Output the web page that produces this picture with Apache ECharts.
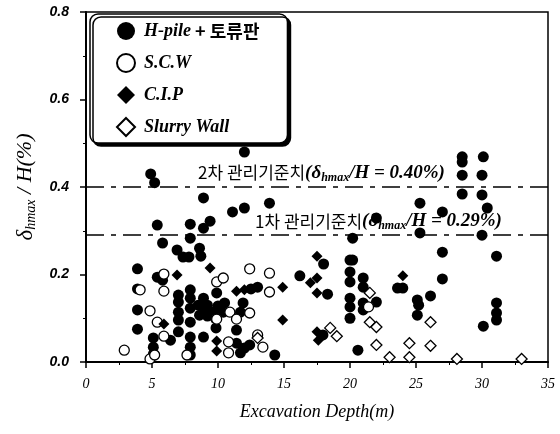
<!DOCTYPE html>
<html>
<head>
<meta charset="utf-8">
<script src="https://cdn.jsdelivr.net/npm/echarts@6/dist/echarts.min.js"></script>
<style>html,body{margin:0;padding:0;background:#fff}#c{width:560px;height:434px}</style>
</head>
<body>
<div id="c"></div>
<script>
const seriesNames = ['H-pile + 토류판', 'S.C.W', 'C.I.P', 'Slurry Wall'];
const xTicks = [0, 35, 5];
const yTicks = [0, 0.8, 0.2];
const limitValues = [0.40, 0.29];
const limitNames = ['2차 관리기준치', '1차 관리기준치'];

const hpile = [
[4.9,0.43],[5.2,0.41],[12.0,0.48],[8.9,0.375],[11.1,0.343],[12.0,0.352],[13.9,0.363],[5.4,0.313],[7.9,0.315],[9.4,0.322],[8.9,0.306],[7.9,0.283],[5.8,0.272],[6.9,0.256],[7.35,0.24],[7.8,0.24],[8.6,0.26],[8.7,0.242],
[3.9,0.213],[3.9,0.167],[3.9,0.119],[3.9,0.075],[5.4,0.194],[5.8,0.187],
[7.0,0.153],[7.0,0.137],[7.0,0.114],[7.0,0.096],[7.0,0.069],
[7.9,0.165],[7.9,0.146],[7.9,0.123],[7.9,0.091],[7.9,0.057],[7.9,0.034],[7.9,0.016],
[5.1,0.055],[5.1,0.034],[5.1,0.018],[6.4,0.05],
[8.9,0.146],[9.9,0.158],[8.5,0.13],[8.9,0.119],[9.2,0.13],[9.6,0.114],[10.0,0.128],[10.4,0.114],[9.2,0.105],[8.6,0.107],[9.8,0.1],[10.5,0.135],
[9.85,0.078],[8.9,0.057],
[11.9,0.135],[11.7,0.114],[11.4,0.073],[11.4,0.043],[11.7,0.021],[12.0,0.032],[12.4,0.039],[14.3,0.016],[13.0,0.171],[12.5,0.167],
[16.2,0.197],[18.0,0.224],[18.3,0.155],
[20.0,0.233],[20.2,0.233],[20.0,0.206],[20.0,0.183],[20.0,0.146],[20.0,0.126],[20.0,0.1],
[21.0,0.192],[21.0,0.171],[21.0,0.135],[21.0,0.119],
[22.0,0.137],[20.6,0.027],[23.6,0.169],[24.0,0.169],[25.1,0.142],[25.2,0.13],[25.1,0.107],[17.95,0.062],
[27.0,0.251],[31.1,0.242],[27.0,0.19],[26.1,0.151],[31.1,0.135],[31.1,0.112],[31.1,0.096],[30.1,0.082],
[28.5,0.469],[28.5,0.457],[30.1,0.469],[28.5,0.427],[30.0,0.427],[28.5,0.384],[30.0,0.382],[30.4,0.352],[25.3,0.363],[27.0,0.343],[22.0,0.329],[25.3,0.295],[30.0,0.29],[20.2,0.283]
];
const scw = [
[2.9,0.027],[5.9,0.201],[5.9,0.162],[4.1,0.165],[4.85,0.117],[5.4,0.091],[5.9,0.059],[4.85,0.007],[5.2,0.016],[7.65,0.016],[12.4,0.213],[13.9,0.203],[9.9,0.183],[10.4,0.192],[13.9,0.16],[10.9,0.114],[12.4,0.112],[11.4,0.098],[9.9,0.098],[10.8,0.046],[10.8,0.021],[13.0,0.062],[13.4,0.034],[21.4,0.126]
];
const cip = [
[6.9,0.199],[5.9,0.087],[9.4,0.215],[9.9,0.048],[9.9,0.025],[11.4,0.162],[12.0,0.165],[14.9,0.171],[14.9,0.096],[17.5,0.242],[17.5,0.192],[17.0,0.181],[17.5,0.158],[24.0,0.197],[17.5,0.069],[17.6,0.05]
];
const slurry = [
[18.5,0.078],[19.0,0.059],[21.5,0.158],[21.5,0.091],[22.0,0.08],[22.0,0.039],[23.0,0.011],[24.5,0.043],[24.5,0.011],[26.1,0.091],[26.1,0.037],[28.1,0.007],[33.0,0.007],[13.0,0.055]
];

const serif = 'Liberation Serif';
const richLimit = {
  k: {fontFamily: 'Noto Sans CJK KR', fontSize: 17, color: '#000'},
  m: {fontFamily: serif, fontStyle: 'italic', fontWeight: 'bold', fontSize: 19, color: '#000'},
  s: {fontFamily: serif, fontStyle: 'italic', fontWeight: 'bold', fontSize: 12, color: '#000', verticalAlign: 'bottom', padding: [10, 0, 0, 0]}
};
function limitLabel(i, dist) {
  return {
    show: true,
    position: 'insideStartTop',
    distance: dist,
    formatter: '{k|' + limitNames[i] + '}{m|(δ}{s|hmax}{m|/H = ' + limitValues[i].toFixed(2) + '%)}',
    rich: richLimit
  };
}

const chart = echarts.init(document.getElementById('c'));
const openStyle = {color: '#fff', borderColor: '#000', borderWidth: 1.3, opacity: 1};
const fillStyle = {color: '#000', opacity: 1};
chart.setOption({
  animation: false,
  grid: {left: 86, right: 12, top: 12, bottom: 72, show: true, borderColor: '#000', borderWidth: 1.5},
  legend: {
    left: 90, top: 14, orient: 'vertical',
    padding: [8, 28, 6, 26], itemGap: 13, itemWidth: 18, itemHeight: 18,
    backgroundColor: '#fff', borderColor: '#000', borderWidth: 1.5, borderRadius: 8,
    shadowColor: '#000', shadowBlur: 0, shadowOffsetX: 3, shadowOffsetY: 3,
    data: seriesNames,
    formatter: n => n === seriesNames[0] ? '{e|H-pile}{k| + 토류판}' : '{e|' + n + '}',
    textStyle: {
      padding: [0, 0, 0, 4],
      rich: {
        e: {fontFamily: serif, fontStyle: 'italic', fontWeight: 'bold', fontSize: 18, color: '#000'},
        k: {fontFamily: 'Noto Sans CJK KR', fontWeight: 'bold', fontSize: 18, color: '#000'}
      }
    }
  },
  xAxis: {
    type: 'value', min: xTicks[0], max: xTicks[1], interval: xTicks[2],
    name: 'Excavation Depth(m)', nameLocation: 'middle', nameGap: 41,
    nameTextStyle: {fontFamily: serif, fontStyle: 'italic', fontSize: 18, color: '#000'},
    axisLine: {lineStyle: {color: '#000', width: 2}},
    axisTick: {length: 6, lineStyle: {color: '#000', width: 1.5}},
    minorTick: {show: true, splitNumber: 2, length: 3, lineStyle: {color: '#000'}},
    axisLabel: {margin: 15, fontFamily: serif, fontStyle: 'italic', fontSize: 14, color: '#000'},
    splitLine: {show: false}
  },
  yAxis: {
    type: 'value', min: yTicks[0], max: yTicks[1], interval: yTicks[2],
    name: '{d|δ}{s|hmax}{n| / H(%)}', nameLocation: 'middle', nameGap: 44,
    nameTextStyle: {
      rich: {
        d: {fontFamily: serif, fontStyle: 'italic', fontSize: 23, color: '#000'},
        s: {fontFamily: serif, fontStyle: 'italic', fontSize: 14, color: '#000', verticalAlign: 'bottom', padding: [12, 0, 0, 0]},
        n: {fontFamily: serif, fontStyle: 'italic', fontSize: 22, color: '#000'}
      }
    },
    axisLine: {show: true, lineStyle: {color: '#000', width: 2}},
    axisTick: {show: true, length: 6, lineStyle: {color: '#000', width: 1.5}},
    minorTick: {show: true, splitNumber: 2, length: 3, lineStyle: {color: '#000'}},
    axisLabel: {margin: 17, fontFamily: 'Liberation Sans', fontStyle: 'italic', fontWeight: 'bold', fontSize: 14, color: '#000', formatter: v => v.toFixed(1)},
    splitLine: {show: false}
  },
  series: [
    {name: seriesNames[0], type: 'scatter', symbol: 'circle', symbolSize: 11, itemStyle: fillStyle, data: hpile,
     markLine: {silent: true, symbol: ['none', 'none'],
       lineStyle: {color: '#000', width: 1.5, type: [18, 7, 5, 7]},
       data: [
         {yAxis: limitValues[0], label: limitLabel(0, [112, 3])},
         {yAxis: limitValues[1], label: limitLabel(1, [169, 3])}
       ]}},
    {name: seriesNames[1], type: 'scatter', symbol: 'circle', symbolSize: 10, itemStyle: openStyle, data: scw},
    {name: seriesNames[2], type: 'scatter', symbol: 'diamond', symbolSize: 11, itemStyle: fillStyle, data: cip},
    {name: seriesNames[3], type: 'scatter', symbol: 'diamond', symbolSize: 11, itemStyle: openStyle, data: slurry}
  ]
});
</script>
</body>
</html>
